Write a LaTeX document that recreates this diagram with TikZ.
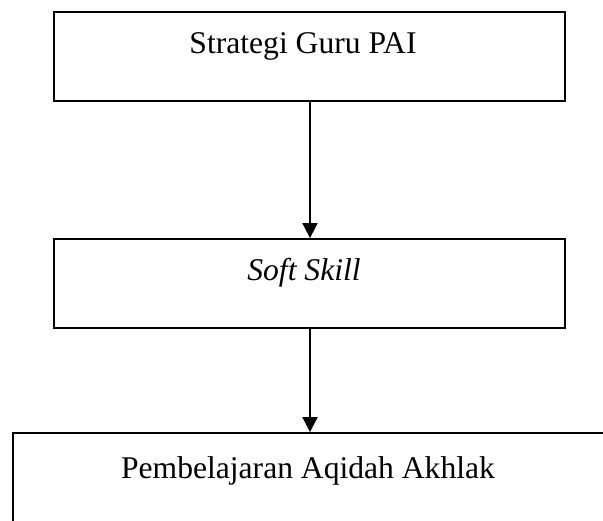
\documentclass[tikz,border=0pt]{standalone}
\usepackage{fontspec}
\setmainfont{Liberation Serif}
\usetikzlibrary{arrows.meta}
\begin{document}
\begin{tikzpicture}[x=1pt,y=1pt,
  box/.style={draw=black, line width=1.8pt, fill=white, inner sep=0pt,
    minimum width=511pt, minimum height=89pt},
  wide/.style={draw=black, line width=1.8pt, inner sep=0pt,
    minimum width=607pt, minimum height=107pt},
  label/.style={anchor=base, inner sep=0pt, font=\fontsize{31.6}{38}\selectfont},
  arr/.style={line width=1.8pt, -{Triangle[length=15pt,width=15pt]}}]
  \useasboundingbox (0,0) rectangle (603,-520);
  \clip (0,0) rectangle (603,-520);
  % boxes
  \node[box] (strat) at (309.5,-56.5) {};
  \node[box] (soft) at (309.5,-283.5) {};
  \node[wide] (learn) at (316.5,-486.5) {};
  % texts
  \node[label] (tstrat) at (303,-53) {Strategi Guru PAI};
  \node[label] (tsoft) at (304,-280) {\itshape Soft Skill};
  \node[label] (tlearn) at (308,-478) {Pembelajaran Aqidah Akhlak};
  % connectors
  \coordinate (a1) at (310,0);
  \draw[arr] (strat.south -| a1) -- (soft.north -| a1);
  \draw[arr] (soft.south -| a1) -- (learn.north -| a1);
\end{tikzpicture}
\end{document}
